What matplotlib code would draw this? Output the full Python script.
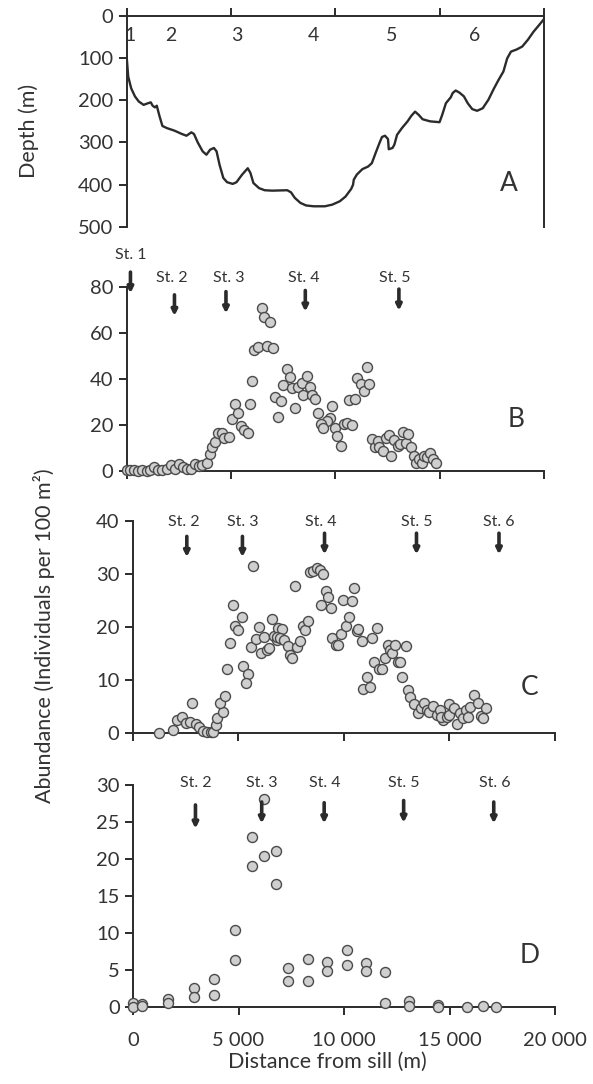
import matplotlib
matplotlib.use("Agg")
import matplotlib.pyplot as plt
import numpy as np

plt.rcParams['font.family'] = ['Lato', 'DejaVu Sans']

# ---------------- data ----------------
# Panel A: bathymetric profile
depth_x = [0, 72, 216, 396, 577, 811, 1027, 1153, 1243, 1352, 1442, 1568, 1712, 1928, 2289, 2649,
           2865, 3099, 3225, 3406, 3640, 3820, 4000, 4180, 4307, 4451, 4631, 4811, 5081, 5262,
           5532, 5802, 5929, 6073, 6343, 6613, 6974, 7695, 7875, 8055, 8326, 8596, 8956, 9497,
           9857, 10217, 10488, 10758, 10848, 10884, 11028, 11298, 11568, 11748, 11929, 12109,
           12235, 12380, 12524, 12560, 12740, 12830, 12956, 13190, 13461, 13641, 13821, 14001,
           14181, 14542, 14993, 15119, 15299, 15533, 15623, 15767, 15947, 16163, 16343, 16560,
           16794, 17064, 17334, 17604, 17821, 18055, 18236, 18416, 18687, 18957, 19227, 19497,
           19767, 20000]
depth_y = [98, 144, 172, 191, 203, 211, 207, 205, 213, 217, 213, 237, 261, 266, 272, 280,
           284, 276, 280, 300, 321, 329, 317, 313, 321, 353, 384, 394, 398, 394,
           376, 361, 372, 396, 408, 413, 414, 413, 418, 431, 443, 449, 451, 451,
           447, 439, 428, 410, 400, 388, 376, 363, 357, 349, 325, 302,
           287, 284, 292, 316, 313, 305, 282, 266, 250, 237, 227, 235,
           245, 250, 252, 235, 207, 193, 183, 177, 182, 191, 207, 221,
           225, 219, 199, 172, 152, 132, 101, 85, 80, 73, 57, 38,
           22, 8]
a_station_labels = ['1', '2', '3', '4', '5', '6']
a_station_x = [180, 2108, 5262, 8956, 12686, 16669]

# Panel B
b_x = [0, 160, 367, 559, 751, 958, 1118, 1326, 1517, 1709, 1916, 2124, 2316, 2507, 2683, 2875,
       3082, 3274, 3465, 3625, 3833,
       3993, 4104, 4232, 4360, 4551, 4663, 4903, 5062, 5190, 5350, 5462, 5637, 5797, 5909,
       6020, 6100,
       6470, 6581, 6868, 6309, 6708, 6996,
       7669, 7827, 7508, 7907, 8227, 8386, 8626, 8786, 8466, 8866, 9026, 7108, 7396, 8067,
       7268, 9186, 9825, 9745, 9617, 9298, 9425, 9985, 10097, 10257, 10417, 10576, 10784,
       10672, 10943, 11055, 11215, 11375, 11615, 11503,
       11743, 11902, 12061, 12109, 12289, 12416, 12560, 12686, 12830, 13010, 13100, 13245,
       13371, 13461, 13641, 13767, 13875, 14001, 14145, 14272, 14416, 14542, 14668, 14812]
b_y = [0.3, 0.6, 0.3, 0.0, 0.3, 0.0, 0.3, 1.7, 0.3, 0.3, 1.0, 2.5, 1.0, 3.2, 1.7, 1.0,
       1.0, 3.2, 2.0, 2.5, 3.5,
       7.6, 10.5, 12.7, 16.7, 16.7, 14.6, 14.8, 22.6, 29.1, 25.3, 19.5, 17.8, 16.5, 29.1,
       39.2, 52.7,
       70.9, 67.0, 65.1, 54.2, 54.5, 53.5,
       44.5, 40.8, 37.5, 36.0, 36.5, 38.2, 41.6, 36.5, 33.1, 33.1, 31.4, 32.1, 30.6, 27.6,
       23.7, 25.4, 28.3, 23.0, 21.9, 20.5, 18.9, 18.9, 15.4, 11.0, 20.4, 21.1, 20.1,
       31.0, 31.4, 40.4, 37.8, 34.9, 37.8, 45.2,
       13.9, 10.6, 13.2, 10.5, 8.8, 14.6, 15.6, 6.6, 13.5, 11.0, 11.7, 17.1,
       12.4, 16.1, 10.5, 6.6, 3.7, 5.1, 3.7, 6.6, 5.9, 8.0, 5.1, 3.7]
b_station_labels = ['St. 1', 'St. 2', 'St. 3', 'St. 4', 'St. 5']
b_station_x = [180, 2289, 4757, 8560, 13046]
b_text_x = [180, 2162, 4901, 8469, 12830]
b_arrow_top = [86.7, 76.8, 78.2, 78.7, 79.3]
b_arrow_bot = [77.5, 67.6, 68.7, 69.5, 69.9]
b_text_y = [94.3, 84.1, 84.1, 84.1, 84.1]

# Panel C
c_x = [1262, 1924, 2083, 2320, 2524, 2714, 2792, 2998, 3155, 3345, 3535, 3693, 3819, 3946,
       4009, 4262, 4135, 4372, 4482, 4609, 4766, 4846, 5001, 5160, 5239, 5475, 5366, 5713,
       5603, 5840, 5997, 6063, 6219, 6346, 6472, 6614, 6692, 6896, 6848,
       7057, 6820, 6976, 7180, 7341, 7450, 7530, 7767, 7923, 7687, 8080, 8160, 8317, 8397,
       8553, 8714, 8871, 9027, 9141, 9264, 8918, 9392, 9453, 9614, 9737, 9865, 9974, 10088,
       10244, 10372, 10467, 10609, 10685, 10846, 10921, 11082, 11239, 11319, 11556, 11442,
       11665, 11821, 11949, 12077, 12186, 12296, 12423, 12551, 12659, 12769, 12929, 13024,
       13133, 13337, 13498, 13654, 13810, 13924, 14033, 14237, 14398, 14554, 14710,
       14605, 14874, 14963, 14999, 15232, 15357, 15501, 15626, 15770, 15895, 15985, 16164,
       16343, 16486, 16576, 16719]
c_y = [0.1, 0.6, 2.6, 3.0, 1.9, 2.2, 5.7, 1.8, 1.1, 0.5, 0.2, 0.2, 0.3, 1.6,
       2.8, 4.1, 5.7, 7.0, 12.2, 17.1, 24.2, 20.2, 19.5, 21.9, 12.7, 11.2, 9.4, 31.5,
       16.2, 17.8, 20.0, 15.2, 18.2, 15.7, 16.0, 21.5, 18.4, 19.8, 17.6,
       19.6, 18.2, 17.9, 17.6, 16.4, 14.8, 14.1, 16.2, 17.3, 27.8, 20.2, 19.5, 21.2, 30.4,
       30.6, 31.1, 30.8, 30.1, 26.9, 25.6, 24.2, 23.7, 17.9, 16.6, 16.6, 18.7, 25.2, 20.2,
       21.9, 24.9, 27.3, 19.3, 19.6, 17.3, 8.3, 10.6, 8.8, 17.9, 19.8, 13.5,
       12.2, 12.2, 14.1, 16.6, 15.7, 15.1, 16.6, 13.5, 13.5, 10.6, 16.4, 8.2,
       6.8, 5.6, 3.8, 4.7, 5.8, 4.3, 4.1, 5.1, 3.4, 4.4, 2.5,
       3.1, 3.1, 3.4, 5.5, 4.7, 1.8, 3.8, 2.8, 4.4, 3.1, 5.0, 7.2,
       5.8, 3.3, 2.8, 4.7]
c_station_labels = ['St. 2', 'St. 3', 'St. 4', 'St. 5', 'St. 6']
c_station_x = [2563, 5197, 9085, 13440, 17347]
c_text_x = [2419, 5197, 8906, 13440, 17347]
c_arrow_top = [37.1, 37.1, 37.7, 37.7, 37.7]
c_arrow_bot = [33.2, 33.2, 33.7, 33.7, 33.7]
c_text_y = [39.8, 39.8, 39.8, 39.8, 39.8]

# Panel D
d_x = [0, 0, 413, 413, 1650, 1650, 2870, 2870, 3857, 3857, 4844, 4844, 5651, 5651, 6225, 6225,
       6781, 6781, 7355, 7355, 8288, 8288, 9203, 9203, 10136, 10136, 11033, 11033, 11930,
       11930, 13060, 13060, 14442, 14442, 15823, 16595, 17222]
d_y = [0.5, 0.0, 0.3, 0.1, 1.1, 0.5, 2.5, 1.3, 3.8, 1.6, 10.4, 6.3, 23.0, 19.1, 28.1, 20.4,
       21.1, 16.6, 5.3, 3.5, 6.5, 3.5, 6.0, 4.8, 7.7, 5.6, 5.9, 4.8, 4.7,
       0.5, 0.8, 0.1, 0.2, 0.0, 0.0, 0.1, 0.0]
d_station_labels = ['St. 2', 'St. 3', 'St. 4', 'St. 5', 'St. 6']
d_station_x = [2960, 6100, 9060, 12827, 17097]
d_text_x = [2996, 6120, 9090, 12827, 17130]
d_arrow_top = [27.3, 27.7, 27.6, 27.9, 27.7]
d_arrow_bot = [24.1, 24.8, 24.8, 24.9, 24.8]
d_text_y = [30.3, 30.3, 30.3, 30.3, 30.3]

x_ticks = [0, 5000, 10000, 15000, 20000]
x_tick_labels = ['0', '5 000', '10 000', '15 000', '20 000']

# ---------------- style ----------------
W, H = 593, 1084
fig = plt.figure(figsize=(W / 100, H / 100), dpi=100)
dark = '#2b2b2b'
txt = '#333333'
mfc = '#cfcfcf'
mec = '#4a4a4a'
tick_fs = 14.5
st_fs = 11.5
letter_fs = 19
label_fs = 15.5


def px_axes(left, right, top, bottom):
    return fig.add_axes([left / W, 1 - bottom / H, (right - left) / W, (bottom - top) / H])


def style(ax):
    for s in ax.spines.values():
        s.set_color(dark)
        s.set_linewidth(1.4)
    ax.tick_params(colors=dark, labelcolor=txt, labelsize=tick_fs, width=1.4, length=6,
                   direction='out')


def arrows(ax, xs, texts, tx, tops, bots, tys):
    for x, t, xt, yt, yb, ty in zip(xs, texts, tx, tops, bots, tys):
        ax.annotate('', xy=(x, yb), xytext=(x, yt),
                    arrowprops=dict(arrowstyle='-|>', lw=2.6, color=dark,
                                    mutation_scale=8, shrinkA=0, shrinkB=0),
                    annotation_clip=False)
        ax.text(xt, ty, t, ha='center', va='center', fontsize=st_fs, color=txt,
                clip_on=False)


def scatter(ax, x, y):
    ax.plot(x, y, 'o', ms=7.2, mfc=mfc, mec=mec, mew=1.0, clip_on=False, zorder=3)


# Panel A
axA = px_axes(126.7, 544, 15.7, 227)
style(axA)
axA.plot(depth_x, depth_y, color=dark, lw=1.7)
axA.set_xlim(0, 20000)
axA.set_ylim(500, 0)
axA.spines['bottom'].set_visible(False)
axA.xaxis.tick_top()
axA.set_xticks(x_ticks)
axA.set_xticklabels([])
axA.set_yticks([0, 100, 200, 300, 400, 500])
for lab, x in zip(a_station_labels, a_station_x):
    axA.text(x, 48, lab, ha='center', va='center', fontsize=14, color=txt)
axA.text(18330, 398, 'A', ha='center', va='center', fontsize=letter_fs, color=txt)
fig.text(29 / W, 1 - 131 / H, 'Depth (m)', rotation=90, ha='center', va='center',
         fontsize=label_fs, color=txt)

# Panel B
axB = px_axes(126.7, 544, 287.5, 471)
style(axB)
scatter(axB, b_x, b_y)
axB.set_xlim(0, 20000)
axB.set_ylim(0, 80)
axB.spines['top'].set_visible(False)
axB.spines['right'].set_visible(False)
axB.set_xticks(x_ticks)
axB.set_xticklabels([])
axB.set_yticks([0, 20, 40, 60, 80])
arrows(axB, b_station_x, b_station_labels, b_text_x, b_arrow_top, b_arrow_bot, b_text_y)
axB.text(18650, 22.5, 'B', ha='center', va='center', fontsize=letter_fs, color=txt)

# Panel C
axC = px_axes(132.7, 555, 521, 733.3)
style(axC)
scatter(axC, c_x, c_y)
axC.set_xlim(0, 20000)
axC.set_ylim(0, 40)
axC.spines['top'].set_visible(False)
axC.spines['right'].set_visible(False)
axC.set_xticks(x_ticks)
axC.set_xticklabels([])
axC.set_yticks([0, 10, 20, 30, 40])
arrows(axC, c_station_x, c_station_labels, c_text_x, c_arrow_top, c_arrow_bot, c_text_y)
axC.text(18800, 8.7, 'C', ha='center', va='center', fontsize=letter_fs, color=txt)

# Panel D
axD = px_axes(133, 555, 785, 1006.7)
style(axD)
scatter(axD, d_x, d_y)
axD.set_xlim(0, 20000)
axD.set_ylim(0, 30)
axD.spines['top'].set_visible(False)
axD.spines['right'].set_visible(False)
axD.set_xticks(x_ticks)
axD.set_xticklabels(x_tick_labels)
axD.tick_params(axis='x', pad=12)
axD.set_yticks([0, 5, 10, 15, 20, 25, 30])
arrows(axD, d_station_x, d_station_labels, d_text_x, d_arrow_top, d_arrow_bot, d_text_y)
axD.text(18800, 6.9, 'D', ha='center', va='center', fontsize=letter_fs, color=txt)
fig.text(327 / W, 1 - 1062 / H, 'Distance from sill (m)', ha='center', va='center',
         fontsize=label_fs, color=txt)

fig.text(44 / W, 1 - 636 / H, 'Abundance (Individuals per 100 m²)', rotation=90,
         ha='center', va='center', fontsize=label_fs, color=txt)

fig.savefig('out.png', dpi=100)
